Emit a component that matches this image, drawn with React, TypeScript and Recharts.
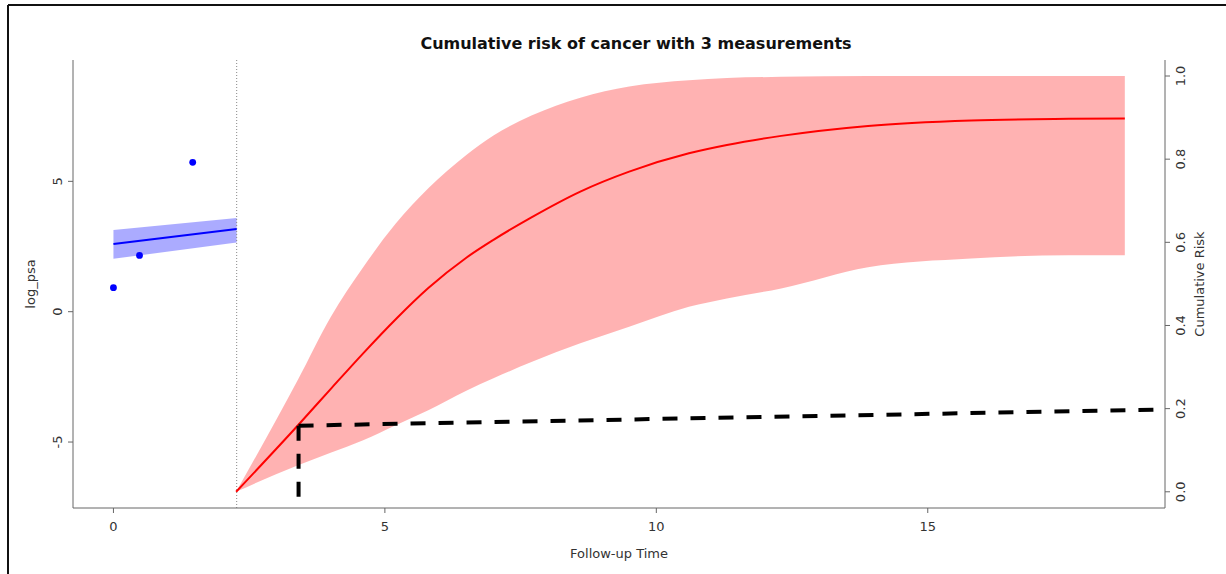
import {
  ComposedChart,
  Area,
  Line,
  Scatter,
  XAxis,
  YAxis,
  ReferenceLine,
} from 'recharts'

// observed log PSA measurements
const obsTime = [0, 0.48, 1.46]
const obsPsa = [0.92, 2.16, 5.73]

// fitted longitudinal trajectory up to the last visit
const lastVisit = 2.27
const fitTime = [0, 2.27]
const fitPsa = [2.6, 3.17]
const fitLow = [2.03, 2.65]
const fitHigh = [3.13, 3.59]

// cumulative risk after the last visit
const riskTime = [2.26, 3.4, 4.0, 4.6, 5.2, 5.8, 6.5, 7.0, 7.7, 8.6, 9.5, 10.6, 11.3, 12.3, 13.9, 15.8, 17.6, 18.63]
const riskMean = [0, 0.16, 0.247, 0.333, 0.415, 0.49, 0.563, 0.606, 0.66, 0.722, 0.77, 0.814, 0.834, 0.856, 0.88, 0.893, 0.897, 0.898]
const riskLow = [0, 0.064, 0.094, 0.124, 0.16, 0.196, 0.243, 0.273, 0.312, 0.357, 0.397, 0.445, 0.465, 0.489, 0.54, 0.561, 0.569, 0.569]
const riskHigh = [0, 0.27, 0.42, 0.54, 0.645, 0.73, 0.81, 0.857, 0.905, 0.948, 0.975, 0.99, 0.995, 0.998, 1, 1, 1, 1]

// dashed guide lines
const guideVTime = [3.41, 3.41]
const guideVRisk = [-0.012, 0.159]
const guideHTime = [3.41, 19.37]
const guideHRisk = [0.159, 0.198]

const xTicks = [0, 5, 10, 15]
const psaTicks = [-5, 0, 5]
const riskTicks = [0, 0.2, 0.4, 0.6, 0.8, 1.0]

const obsData = obsTime.map((t, i) => ({ t, psa: obsPsa[i] }))
const fitData = fitTime.map((t, i) => ({ t, psa: fitPsa[i], band: [fitLow[i], fitHigh[i]] }))
const riskData = riskTime.map((t, i) => ({ t, mean: riskMean[i], band: [riskLow[i], riskHigh[i]] }))
const guideV = guideVTime.map((t, i) => ({ t, r: guideVRisk[i] }))
const guideH = guideHTime.map((t, i) => ({ t, r: guideHRisk[i] }))

const X_DOMAIN: [number, number] = [-0.745, 19.37]
const PSA_DOMAIN: [number, number] = [-7.53, 9.655]
const RISK_DOMAIN: [number, number] = [-0.039, 1.0385]

const font = 'DejaVu Sans'
const axisColor = '#666'
const textColor = '#333'

function RotatedTick(props: any) {
  const { x, y, payload, digits } = props
  const label = digits ? Number(payload.value).toFixed(digits) : String(payload.value)
  return (
    <text
      x={x}
      y={y}
      transform={`rotate(-90 ${x} ${y})`}
      textAnchor="middle"
      fontSize={13}
      fontFamily={font}
      fill={textColor}
    >
      {label}
    </text>
  )
}

export default function App() {
  return (
    <div style={{ position: 'absolute', left: 0, top: 0, width: 1226, height: 574, background: '#fff' }}>
      <ComposedChart
        width={1226}
        height={574}
        margin={{ top: 60, right: 1, bottom: 26, left: 13 }}
      >
        <XAxis
          dataKey="t"
          type="number"
          domain={X_DOMAIN}
          allowDataOverflow
          ticks={xTicks}
          height={40}
          tickSize={5}
          tickMargin={9}
          stroke={axisColor}
          tick={{ fontSize: 13, fontFamily: font, fill: textColor }}
        />
        <XAxis
          xAxisId="top"
          orientation="top"
          type="number"
          domain={X_DOMAIN}
          allowDataOverflow
          height={0}
          tick={false}
          tickLine={false}
          stroke={axisColor}
        />
        <YAxis
          yAxisId="psa"
          type="number"
          domain={PSA_DOMAIN}
          allowDataOverflow
          ticks={psaTicks}
          width={60}
          tickSize={5}
          tickMargin={6}
          stroke={axisColor}
          tick={<RotatedTick />}
        />
        <YAxis
          yAxisId="risk"
          orientation="right"
          type="number"
          domain={RISK_DOMAIN}
          allowDataOverflow
          ticks={riskTicks}
          width={60}
          tickSize={5}
          tickMargin={15}
          stroke={axisColor}
          tick={<RotatedTick digits={1} />}
        />
        <ReferenceLine
          x={lastVisit}
          yAxisId="psa"
          stroke="#888"
          strokeDasharray="1 2"
        />
        <Area
          data={riskData}
          yAxisId="risk"
          dataKey="band"
          type="monotone"
          stroke="none"
          fill="#ff0000"
          fillOpacity={0.3}
          isAnimationActive={false}
        />
        <Line
          data={riskData}
          yAxisId="risk"
          dataKey="mean"
          type="monotone"
          stroke="#ff0000"
          strokeWidth={2}
          dot={false}
          isAnimationActive={false}
        />
        <Area
          data={fitData}
          yAxisId="psa"
          dataKey="band"
          type="linear"
          stroke="none"
          fill="#0000ff"
          fillOpacity={0.33}
          isAnimationActive={false}
        />
        <Line
          data={fitData}
          yAxisId="psa"
          dataKey="psa"
          type="linear"
          stroke="#0000ff"
          strokeWidth={2}
          dot={false}
          isAnimationActive={false}
        />
        <Scatter
          data={obsData}
          yAxisId="psa"
          dataKey="psa"
          fill="#0000ff"
          shape={(p: any) => <circle cx={p.cx} cy={p.cy} r={3.4} fill="#0000ff" />}
          isAnimationActive={false}
        />
        <Line
          data={guideV}
          yAxisId="risk"
          dataKey="r"
          type="linear"
          stroke="#000"
          strokeWidth={4}
          strokeDasharray="15 13"
          dot={false}
          isAnimationActive={false}
        />
        <Line
          data={guideH}
          yAxisId="risk"
          dataKey="r"
          type="linear"
          stroke="#000"
          strokeWidth={4}
          strokeDasharray="15 13"
          dot={false}
          isAnimationActive={false}
        />
      </ComposedChart>
      <svg
        width={1226}
        height={574}
        style={{ position: 'absolute', left: 0, top: 0, pointerEvents: 'none' }}
      >
        <line x1={8} y1={5} x2={1226} y2={5} stroke="#111" strokeWidth={2} />
        <line x1={8} y1={5} x2={8} y2={574} stroke="#111" strokeWidth={2} />
        <text x={636} y={49} textAnchor="middle" fontSize={16} fontWeight="bold" fontFamily={font} fill="#111">
          Cumulative risk of cancer with 3 measurements
        </text>
        <text x={619} y={558} textAnchor="middle" fontSize={13} fontFamily={font} fill={textColor}>
          Follow-up Time
        </text>
        <text x={35} y={284} transform="rotate(-90 35 284)" textAnchor="middle" fontSize={13} fontFamily={font} fill={textColor}>
          log_psa
        </text>
        <text x={1204} y={284} transform="rotate(-90 1204 284)" textAnchor="middle" fontSize={13} fontFamily={font} fill={textColor}>
          Cumulative Risk
        </text>
      </svg>
    </div>
  )
}
